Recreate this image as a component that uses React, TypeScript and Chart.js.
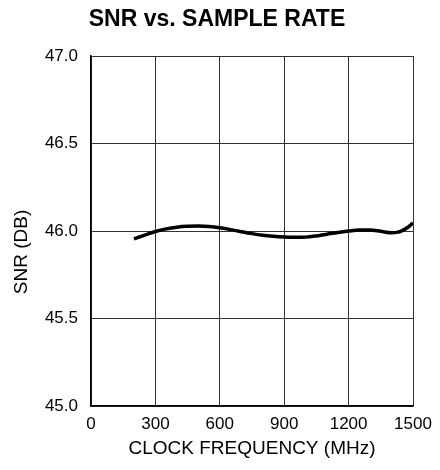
import React, { useEffect, useRef } from "react";
import { Chart, registerables } from "chart.js";

Chart.register(...registerables);

const TITLE = "SNR vs. SAMPLE RATE";
const X_TITLE = "CLOCK FREQUENCY (MHz)";
const Y_TITLE = "SNR (DB)";

const freqMHz = [200, 250, 300, 350, 400, 450, 500, 550, 600, 650, 700, 750, 800, 850, 900, 950, 1000, 1050, 1100, 1150, 1200, 1250, 1300, 1350, 1400, 1425, 1450, 1475, 1500];
const snrDb = [45.955, 45.976, 45.997, 46.012, 46.022, 46.027, 46.028, 46.026, 46.019, 46.008, 45.996, 45.985, 45.976, 45.970, 45.966, 45.964, 45.965, 45.972, 45.982, 45.992, 46.0, 46.006, 46.006, 45.998, 45.99, 45.992, 46.002, 46.02, 46.047];

const X_MIN = 0;
const X_MAX = 1500;
const X_STEP = 300;
const Y_MIN = 45.0;
const Y_MAX = 47.0;
const Y_STEP = 0.5;

const FONT = "'Liberation Sans', Arial, Helvetica, sans-serif";

const textPlugin = {
  id: "textPlugin",
  afterDraw(chart: any) {
    const ctx = chart.ctx;
    ctx.save();
    ctx.fillStyle = "#000";
    ctx.textAlign = "center";
    ctx.textBaseline = "middle";
    ctx.font = `bold 23px ${FONT}`;
    ctx.fillText(TITLE, 217, 20);
    ctx.font = `19px ${FONT}`;
    ctx.translate(22, 252);
    ctx.rotate(-Math.PI / 2);
    ctx.fillText(Y_TITLE, 0, 0);
    ctx.restore();
  },
};

export default function App() {
  const ref = useRef<HTMLCanvasElement>(null);

  useEffect(() => {
    document.body.style.margin = "0";
    const canvas = ref.current;
    if (!canvas) return;
    const chart = new Chart(canvas, {
      type: "line",
      data: {
        datasets: [
          {
            data: freqMHz.map((x, i) => ({ x, y: snrDb[i] })),
            borderColor: "#000",
            borderWidth: 3.5,
            pointRadius: 0,
            tension: 0.4,
            cubicInterpolationMode: "monotone",
            fill: false,
          },
        ],
      },
      options: {
        animation: false,
        responsive: false,
        maintainAspectRatio: false,
        layout: { padding: { left: 0, right: 27, top: 56, bottom: 0 } },
        plugins: {
          legend: { display: false },
          tooltip: { enabled: false },
          title: { display: false },
        },
        scales: {
          x: {
            type: "linear",
            min: X_MIN,
            max: X_MAX,
            afterFit: (s: any) => {
              s.height = 64;
            },
            ticks: {
              stepSize: X_STEP,
              color: "#000",
              padding: 8,
              maxRotation: 0,
              font: { family: FONT, size: 17 },
              callback: (v: any) => String(v),
            },
            grid: { color: "#333", lineWidth: 1, drawTicks: false },
            border: { color: "#000", width: 1.5 },
            title: {
              display: true,
              text: X_TITLE,
              color: "#000",
              font: { family: FONT, size: 19 },
              padding: { top: 0, bottom: 10 },
            },
          },
          y: {
            min: Y_MIN,
            max: Y_MAX,
            afterFit: (s: any) => {
              s.width = 91;
            },
            ticks: {
              stepSize: Y_STEP,
              color: "#000",
              padding: 13,
              font: { family: FONT, size: 17 },
              callback: (v: any) => Number(v).toFixed(1),
            },
            grid: { color: "#333", lineWidth: 1, drawTicks: false },
            border: { color: "#000", width: 1.5 },
          },
        },
      },
      plugins: [textPlugin],
    });
    return () => chart.destroy();
  }, []);

  return (
    <div style={{ width: 440, height: 470 }}>
      <canvas ref={ref} width={440} height={470} style={{ display: "block", width: 440, height: 470 }} />
    </div>
  );
}
